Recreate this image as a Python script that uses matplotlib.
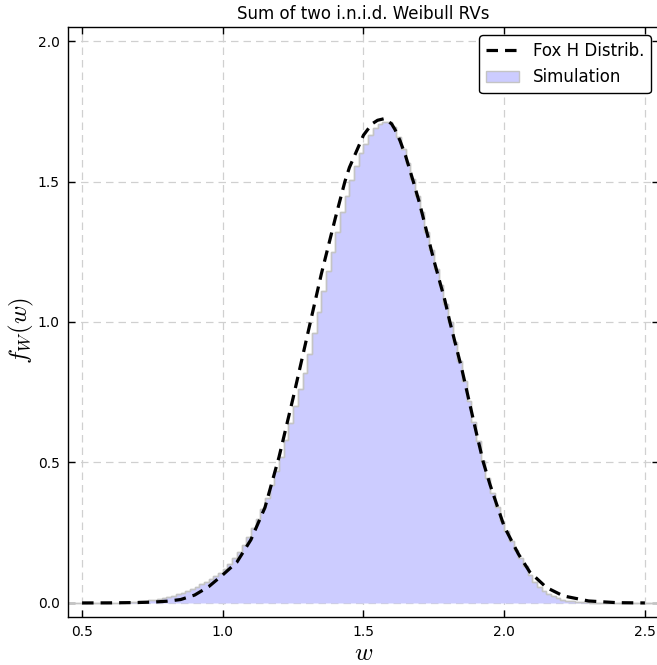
import numpy as np
import matplotlib
matplotlib.use("Agg")
import matplotlib.pyplot as plt

plt.rcParams["mathtext.fontset"] = "cm"

# ---- data -------------------------------------------------------------
# Simulation histogram: bin width 1/60, first bin starts at 24/60 = 0.4
bin_start_index = 24
bin_width = 1.0 / 60.0
sim_density = [
    # k = 24 .. 29
    0.0, 0.0, 0.0, 0.0, 0.0, 0.0,
    # k = 30 .. 39
    0.0, 0.0001, 0.0002, 0.0003, 0.0005, 0.0007, 0.001, 0.0015, 0.002, 0.003,
    # k = 40 .. 49
    0.004, 0.005, 0.006, 0.008, 0.010, 0.012, 0.015, 0.018, 0.022, 0.026,
    # k = 50 .. 59
    0.031, 0.037, 0.043, 0.050, 0.058, 0.066, 0.075, 0.084, 0.095, 0.108,
    # k = 60 .. 69
    0.122, 0.140, 0.160, 0.182, 0.207, 0.235, 0.265, 0.298, 0.335, 0.375,
    # k = 70 .. 79
    0.420, 0.470, 0.520, 0.580, 0.640, 0.700, 0.760, 0.820, 0.885, 0.960,
    # k = 80 .. 89
    1.035, 1.110, 1.180, 1.250, 1.320, 1.390, 1.450, 1.505, 1.555, 1.600,
    # k = 90 .. 99
    1.635, 1.665, 1.690, 1.705, 1.713, 1.712, 1.695, 1.660, 1.615, 1.565,
    # k = 100 .. 109
    1.510, 1.450, 1.390, 1.320, 1.255, 1.190, 1.130, 1.065, 1.000, 0.930,
    # k = 110 .. 119
    0.860, 0.790, 0.720, 0.645, 0.575, 0.505, 0.445, 0.390, 0.340, 0.290,
    # k = 120 .. 129
    0.255, 0.220, 0.190, 0.160, 0.130, 0.100, 0.075, 0.058, 0.044, 0.033,
    # k = 130 .. 139
    0.024, 0.017, 0.012, 0.008, 0.0055, 0.0038, 0.0026, 0.0018, 0.0012, 0.0008,
    # k = 140 .. 155
    0.0005, 0.0003, 0.0002, 0.0001, 0.0, 0.0, 0.0, 0.0, 0.0, 0.0,
    0.0, 0.0, 0.0, 0.0, 0.0, 0.0,
]

# Fox H distribution curve
fox_w = [0.50, 0.60, 0.70, 0.75, 0.80, 0.85, 0.90, 0.95, 1.00, 1.05,
         1.10, 1.15, 1.20, 1.25, 1.30, 1.35, 1.40, 1.434, 1.45, 1.50,
         1.53, 1.55, 1.575, 1.60, 1.612, 1.63, 1.65, 1.677, 1.70, 1.75,
         1.789, 1.807, 1.85, 1.90, 1.926, 1.95, 2.00, 2.05, 2.091, 2.15,
         2.21, 2.30, 2.40, 2.50]
fox_f = [0.0, 0.0003, 0.0015, 0.003, 0.006, 0.012, 0.028, 0.058, 0.100, 0.145,
         0.225, 0.340, 0.520, 0.730, 0.950, 1.170, 1.370, 1.500, 1.550, 1.665,
         1.705, 1.718, 1.724, 1.705, 1.685, 1.645, 1.590, 1.500, 1.420, 1.220,
         1.078, 1.000, 0.830, 0.610, 0.500, 0.420, 0.272, 0.175, 0.110, 0.055,
         0.025, 0.007, 0.001, 0.0]

title = "Sum of two i.n.i.d. Weibull RVs"
xticks = [0.5, 1.0, 1.5, 2.0, 2.5]
yticks = [0.0, 0.5, 1.0, 1.5, 2.0]

# ---- figure -----------------------------------------------------------
fig = plt.figure(figsize=(6.57, 6.65), dpi=100)
ax = fig.add_axes([0.1035, 0.0722, 0.8995, 0.8872])

n = len(sim_density)
edges = (np.arange(n + 1) + bin_start_index) * bin_width
ax.stairs(sim_density, edges, fill=True, facecolor="#ccccff",
          edgecolor="#c4c4c4", linewidth=1.0, label="Simulation", zorder=2)
ax.stairs(sim_density, edges, fill=False, color="#c4c4c4",
          linewidth=1.0, baseline=0, zorder=2)
ax.plot(fox_w, fox_f, color="black", linestyle="--", linewidth=2.3,
        dashes=(3.6, 2.2), label="Fox H Distrib.", zorder=3)

ax.set_xlim(0.45, 2.55)
ax.set_ylim(-0.05, 2.05)
ax.set_xticks(xticks)
ax.set_yticks(yticks)
ax.grid(True, color="#d0d0d0", linestyle=(0, (6, 4)), linewidth=0.9, zorder=0)
ax.set_axisbelow(True)
ax.tick_params(direction="in", top=True, right=True, length=5, width=1,
               labelsize=10, pad=6)
for s in ax.spines.values():
    s.set_linewidth(1.0)

ax.set_title(title, fontsize=12, pad=6)
ax.set_xlabel(r"$w$", fontsize=18)
ax.xaxis.set_label_coords(0.5, -0.040)
ax.set_ylabel(r"$f_W(w)$", fontsize=18)
ax.yaxis.set_label_coords(-0.054, 0.485)

h, l = ax.get_legend_handles_labels()
order = [l.index("Fox H Distrib."), l.index("Simulation")]
leg = ax.legend([h[i] for i in order], [l[i] for i in order],
                loc="upper right", fontsize=12, frameon=True, fancybox=True,
                framealpha=1.0, edgecolor="black", borderpad=0.4,
                handlelength=2.0, borderaxespad=0.5)
leg.get_frame().set_linewidth(1.0)

fig.savefig("out.png", dpi=100)
